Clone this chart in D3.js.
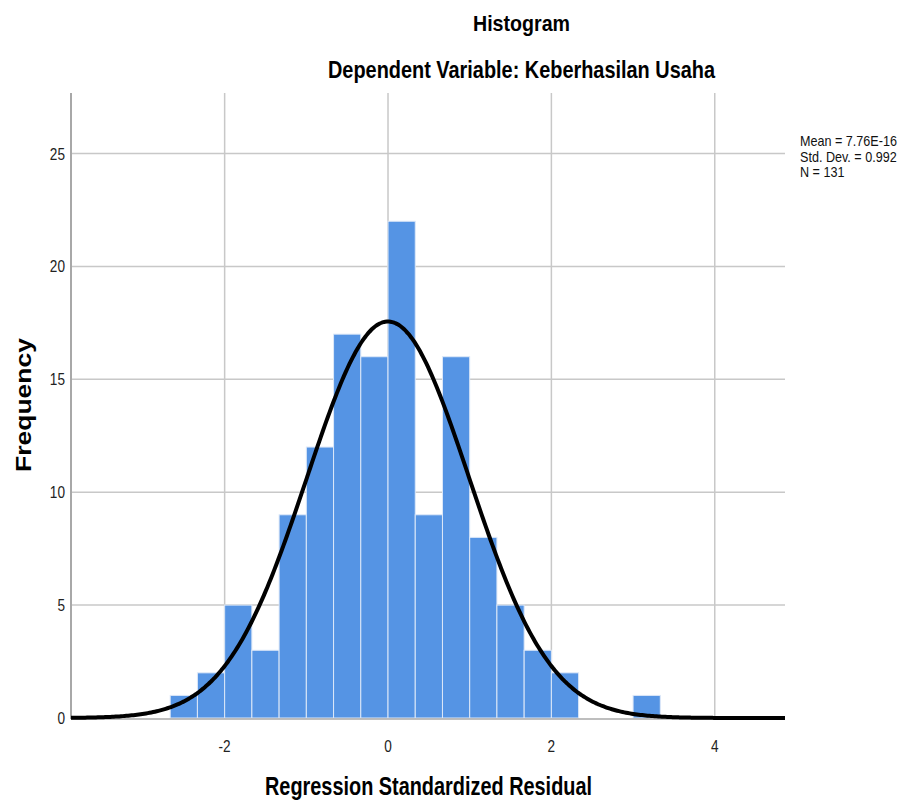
<!DOCTYPE html>
<html><head><meta charset="utf-8">
<script src="https://cdn.jsdelivr.net/npm/d3@7"></script>
<style>body{margin:0;background:#fff}svg{display:block}text{font-family:"Liberation Sans",Arial,sans-serif}</style>
</head><body><svg id="c" width="905" height="805"></svg>
<script>
// Data
const binStarts = [-8/3,-7/3,-2,-5/3,-4/3,-1,-2/3,-1/3,0,1/3,2/3,1,4/3,5/3,2,7/3,8/3,3];
const counts    = [1,2,5,3,9,12,17,16,22,9,16,8,5,3,2,0,0,1];
const binWidth = 1/3;
const xTicks = [-2,0,2,4];
const yTicks = [0,5,10,15,20,25];
const statsLines = ["Mean = 7.76E-16","Std. Dev. = 0.992","N = 131"];
const mean = 7.76e-16, sd = 0.992, N = 131;

const svg = d3.select("#c");
const L=71, R=785, T=93, B=718;
const x = d3.scaleLinear().domain([-3.881,4.86]).range([L,R]);
const y = d3.scaleLinear().domain([0,27.68]).range([B,T]);

// gridlines
svg.append("g").selectAll("line").data(yTicks.filter(d=>d>0)).join("line")
  .attr("x1",L).attr("x2",R).attr("y1",d=>y(d)).attr("y2",d=>y(d))
  .attr("stroke","#c8c8c8").attr("stroke-width",1.5);
svg.append("g").selectAll("line").data(xTicks).join("line")
  .attr("x1",d=>x(d)).attr("x2",d=>x(d)).attr("y1",T).attr("y2",B)
  .attr("stroke","#c8c8c8").attr("stroke-width",1.5);

// bars
svg.append("g").selectAll("rect").data(binStarts.map((s,i)=>({s,c:counts[i]})).filter(d=>d.c>0)).join("rect")
  .attr("x",d=>x(d.s)).attr("width",d=>x(d.s+binWidth)-x(d.s))
  .attr("y",d=>y(d.c)).attr("height",d=>y(0)-y(d.c))
  .attr("fill","#5594e4").attr("stroke","#dde8f8").attr("stroke-width",1);

// axes lines
svg.append("line").attr("x1",L).attr("x2",L).attr("y1",T).attr("y2",B+1).attr("stroke","#a8a8a8").attr("stroke-width",2);
svg.append("line").attr("x1",L).attr("x2",R).attr("y1",B+1).attr("y2",B+1).attr("stroke","#a8a8a8").attr("stroke-width",1.5);

// normal curve
const xs = d3.range(0,401).map(i=>-3.881+i*(4.86+3.881)/400);
const pdf = v => Math.exp(-0.5*((v-mean)/sd)**2)/(sd*Math.sqrt(2*Math.PI));
svg.append("path").datum(xs)
  .attr("d",d3.line().x(v=>x(v)).y(v=>y(N*binWidth*pdf(v))).curve(d3.curveBasis))
  .attr("fill","none").attr("stroke","#000").attr("stroke-width",4);

function squeeze(sel,f){sel.each(function(){const w=this.getComputedTextLength();d3.select(this).attr("textLength",w*f).attr("lengthAdjust","spacingAndGlyphs");});}

// tick labels
svg.append("g").selectAll("text").data(yTicks).join("text")
  .attr("x",65).attr("y",d=>y(d)+6).attr("text-anchor","end")
  .attr("font-size",17).attr("fill","#222").text(d=>d).call(squeeze,0.8);
svg.append("g").selectAll("text").data(xTicks).join("text")
  .attr("x",d=>x(d)).attr("y",752).attr("text-anchor","middle")
  .attr("font-size",17).attr("fill","#222").text(d=>d).call(squeeze,0.8);

// titles
svg.append("text").attr("x",521.5).attr("y",30.5).attr("text-anchor","middle").attr("font-size",22).attr("font-weight","bold")
  .attr("textLength",97).attr("lengthAdjust","spacingAndGlyphs").text("Histogram");
svg.append("text").attr("x",521.5).attr("y",78).attr("text-anchor","middle").attr("font-size",24).attr("font-weight","bold")
  .attr("textLength",387).attr("lengthAdjust","spacingAndGlyphs").text("Dependent Variable: Keberhasilan Usaha");
svg.append("text").attr("x",428.5).attr("y",795).attr("text-anchor","middle").attr("font-size",25).attr("font-weight","bold")
  .attr("textLength",327).attr("lengthAdjust","spacingAndGlyphs").text("Regression Standardized Residual");
svg.append("text").attr("transform","translate(31,405) rotate(-90)").attr("text-anchor","middle").attr("font-size",22).attr("font-weight","bold")
  .attr("textLength",134).attr("lengthAdjust","spacingAndGlyphs").text("Frequency");

// stats
svg.append("g").selectAll("text").data(statsLines).join("text")
  .attr("transform",(d,i)=>`translate(800,${146+i*15.5}) scale(1,1.2)`)
  .attr("font-size",12.6).attr("fill","#111").text(d=>d);
</script></body></html>
